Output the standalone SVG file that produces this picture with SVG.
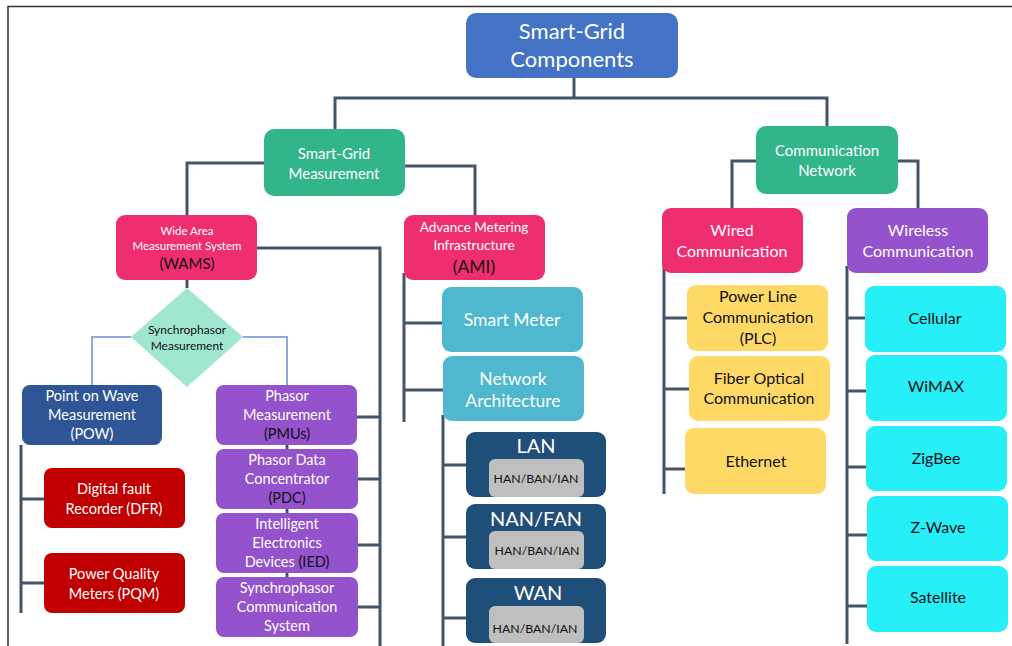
<svg xmlns="http://www.w3.org/2000/svg" width="1012" height="646" viewBox="0 0 1012 646">
  <style>
    text { font-family: Lato, "Open Sans", "Liberation Sans", sans-serif; text-anchor: middle; }
    .w { fill: #ffffff; }
    .k { fill: #111111; }
    .link { fill: none; stroke: #44546A; stroke-width: 3; }
    .thin { fill: none; stroke: #8EA9DB; stroke-width: 2; }
    .root { fill: #4472C4; }
    .green { fill: #33B58C; }
    .pink { fill: #EE2E70; }
    .purple { fill: #9452CC; }
    .navy { fill: #2F5597; }
    .red { fill: #C00000; }
    .teal { fill: #4FB8CE; }
    .dark { fill: #1F4E79; }
    .gray { fill: #BFBFBF; }
    .yellow { fill: #FFD966; }
    .cyan { fill: #26EFF7; }
  </style>

  <rect x="0" y="0" width="1012" height="646" fill="#ffffff"/>
  <!-- frame -->
  <path d="M8,646 V6.5 H1012" fill="none" stroke="#333333" stroke-width="1.5"/>

  <g id="connectors">
    <path class="link" d="M574,78 V98 M335,129 V98 H827 V126"/>
    <path class="link" d="M264,163 H187 V215 M405,166 H475 V215"/>
    <path class="link" d="M756,161 H732 V208 M898,161 H918 V208"/>
    <path class="link" d="M187,280 V288"/>
    <path class="thin" d="M131,337 H92 V385 M243,337 H287 V385"/>
    <path class="link" d="M257,248 H380 V646 M357,417 H380 M358,479 H380 M358,545 H380 M358,607 H380"/>
    <path class="link" d="M287,445 V449 M287,509 V513 M287,573 V577"/>
    <path class="link" d="M21,445 V613 M21,499 H44 M21,583 H44"/>
    <path class="link" d="M404,273 V422 M404,323 H443 M404,390 H443"/>
    <path class="link" d="M443,415 V646 M443,465 H466 M443,537 H466 M443,618 H466"/>
    <path class="link" d="M664,265 V494 M664,318 H687 M664,389 H689 M664,469 H685"/>
    <path class="link" d="M847,266 V644 M847,318 H866 M847,391 H866 M847,467 H866 M847,535 H867 M847,606 H867"/>
  </g>

  <g id="root">
    <rect class="root" x="466" y="13" width="212" height="65" rx="10"/>
    <text class="w" x="572" y="39" font-size="22">Smart-Grid</text>
    <text class="w" x="572" y="67" font-size="22">Components</text>
  </g>

  <g id="measurement">
    <rect class="green" x="264" y="129" width="141" height="67" rx="10"/>
    <text class="w" x="334" y="159" font-size="15">Smart-Grid</text>
    <text class="w" x="334" y="179" font-size="15">Measurement</text>
  </g>

  <g id="comm-network">
    <rect class="green" x="756" y="126" width="142" height="68" rx="10"/>
    <text class="w" x="827" y="156" font-size="15">Communication</text>
    <text class="w" x="827" y="176" font-size="15">Network</text>
  </g>

  <g id="wams">
    <rect class="pink" x="116" y="215" width="141" height="65" rx="9"/>
    <text class="w" x="187" y="235" font-size="11.5">Wide Area</text>
    <text class="w" x="187" y="250" font-size="11.5">Measurement System</text>
    <text class="k" x="187" y="269" font-size="15">(WAMS)</text>
  </g>

  <g id="synchrophasor">
    <polygon points="187,288 243,337 187,387 131,337" fill="#A0E6D0"/>
    <text class="k" x="187" y="334" font-size="12">Synchrophasor</text>
    <text class="k" x="187" y="350" font-size="12">Measurement</text>
  </g>

  <g id="pow">
    <rect class="navy" x="22" y="385" width="140" height="60" rx="8"/>
    <text class="w" x="92" y="401" font-size="14.5">Point on Wave</text>
    <text class="w" x="92" y="420" font-size="14.5">Measurement</text>
    <text class="w" x="92" y="439" font-size="14.5">(POW)</text>
  </g>

  <g id="dfr">
    <rect class="red" x="44" y="468" width="141" height="60" rx="8"/>
    <text class="w" x="114" y="494" font-size="14.5">Digital fault</text>
    <text class="w" x="114" y="514" font-size="14.5">Recorder (DFR)</text>
  </g>

  <g id="pqm">
    <rect class="red" x="44" y="553" width="141" height="60" rx="8"/>
    <text class="w" x="114" y="579" font-size="14.5">Power Quality</text>
    <text class="w" x="114" y="599" font-size="14.5">Meters (PQM)</text>
  </g>

  <g id="pmu">
    <rect class="purple" x="216" y="385" width="141" height="60" rx="8"/>
    <text class="w" x="287" y="401" font-size="14.5">Phasor</text>
    <text class="w" x="287" y="420" font-size="14.5">Measurement</text>
    <text class="k" x="287" y="439" font-size="14.5">(PMUs)</text>
  </g>

  <g id="pdc">
    <rect class="purple" x="216" y="449" width="142" height="60" rx="8"/>
    <text class="w" x="287" y="465" font-size="14.5">Phasor Data</text>
    <text class="w" x="287" y="484" font-size="14.5">Concentrator</text>
    <text class="k" x="287" y="503" font-size="14.5">(PDC)</text>
  </g>

  <g id="ied">
    <rect class="purple" x="216" y="513" width="142" height="60" rx="8"/>
    <text class="w" x="287" y="529" font-size="14.5">Intelligent</text>
    <text class="w" x="287" y="548" font-size="14.5">Electronics</text>
    <text x="287" y="567" font-size="14.5"><tspan class="w">Devices </tspan><tspan class="k">(IED)</tspan></text>
  </g>

  <g id="scs">
    <rect class="purple" x="216" y="577" width="142" height="60" rx="8"/>
    <text class="w" x="287" y="593" font-size="14.5">Synchrophasor</text>
    <text class="w" x="287" y="612" font-size="14.5">Communication</text>
    <text class="w" x="287" y="631" font-size="14.5">System</text>
  </g>

  <g id="ami">
    <rect class="pink" x="404" y="215" width="141" height="65" rx="9"/>
    <text class="w" x="474" y="232" font-size="13.5">Advance Metering</text>
    <text class="w" x="474" y="250" font-size="13.5">Infrastructure</text>
    <text class="k" x="474" y="273" font-size="17.5">(AMI)</text>
  </g>

  <g id="smart-meter">
    <rect class="teal" x="442" y="287" width="141" height="65" rx="9"/>
    <text class="w" x="512" y="326" font-size="17.5">Smart Meter</text>
  </g>

  <g id="network-architecture">
    <rect class="teal" x="443" y="356" width="141" height="65" rx="9"/>
    <text class="w" x="513" y="385" font-size="17.5">Network</text>
    <text class="w" x="513" y="407" font-size="17.5">Architecture</text>
  </g>

  <g id="lan">
    <rect class="dark" x="466" y="432" width="140" height="65" rx="9"/>
    <text class="w" x="536" y="453" font-size="20">LAN</text>
    <rect class="gray" x="489" y="459" width="95" height="38" rx="6"/>
    <text class="k" x="536" y="483" font-size="12.3">HAN/BAN/IAN</text>
  </g>

  <g id="nan-fan">
    <rect class="dark" x="466" y="504" width="140" height="65" rx="9"/>
    <text class="w" x="536" y="526" font-size="20">NAN/FAN</text>
    <rect class="gray" x="489" y="531" width="95" height="38" rx="6"/>
    <text class="k" x="537" y="555" font-size="12.3">HAN/BAN/IAN</text>
  </g>

  <g id="wan">
    <rect class="dark" x="466" y="578" width="140" height="65" rx="9"/>
    <text class="w" x="538" y="600" font-size="20">WAN</text>
    <rect class="gray" x="489" y="606" width="95" height="37" rx="6"/>
    <text class="k" x="535" y="633" font-size="12.3">HAN/BAN/IAN</text>
  </g>

  <g id="wired">
    <rect class="pink" x="662" y="208" width="141" height="65" rx="9"/>
    <text class="w" x="732" y="236" font-size="16">Wired</text>
    <text class="w" x="732" y="257" font-size="16">Communication</text>
  </g>

  <g id="wireless">
    <rect class="purple" x="847" y="208" width="141" height="65" rx="9"/>
    <text class="w" x="918" y="236" font-size="16">Wireless</text>
    <text class="w" x="918" y="257" font-size="16">Communication</text>
  </g>

  <g id="plc">
    <rect class="yellow" x="687" y="285" width="141" height="66" rx="9"/>
    <text class="k" x="758" y="302" font-size="16">Power Line</text>
    <text class="k" x="758" y="323" font-size="16">Communication</text>
    <text class="k" x="758" y="344" font-size="16">(PLC)</text>
  </g>

  <g id="fiber">
    <rect class="yellow" x="689" y="356" width="141" height="65" rx="9"/>
    <text class="k" x="759" y="384" font-size="16">Fiber Optical</text>
    <text class="k" x="759" y="404" font-size="16">Communication</text>
  </g>

  <g id="ethernet">
    <rect class="yellow" x="685" y="428" width="141" height="66" rx="9"/>
    <text class="k" x="756" y="467" font-size="16">Ethernet</text>
  </g>

  <g id="cellular">
    <rect class="cyan" x="865" y="286" width="141" height="66" rx="9"/>
    <text class="k" x="935" y="324" font-size="16">Cellular</text>
  </g>

  <g id="wimax">
    <rect class="cyan" x="866" y="355" width="141" height="66" rx="9"/>
    <text class="k" x="936" y="392" font-size="16">WiMAX</text>
  </g>

  <g id="zigbee">
    <rect class="cyan" x="866" y="426" width="141" height="65" rx="9"/>
    <text class="k" x="936" y="464" font-size="16">ZigBee</text>
  </g>

  <g id="zwave">
    <rect class="cyan" x="867" y="496" width="141" height="65" rx="9"/>
    <text class="k" x="938" y="533" font-size="16">Z-Wave</text>
  </g>

  <g id="satellite">
    <rect class="cyan" x="867" y="566" width="141" height="66" rx="9"/>
    <text class="k" x="938" y="603" font-size="16">Satellite</text>
  </g>
</svg>
